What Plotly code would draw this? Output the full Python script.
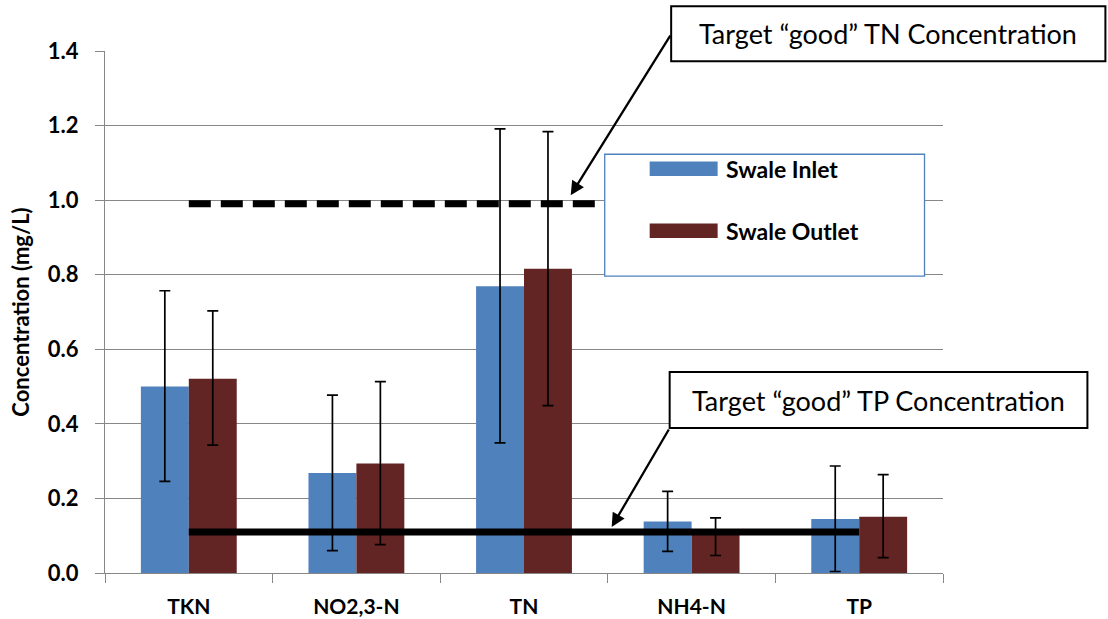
import plotly.graph_objects as go

# ---------------- data ----------------
categories = ["TKN", "NO2,3-N", "TN", "NH4-N", "TP"]
inlet_mean = [0.500, 0.268, 0.769, 0.138, 0.145]
outlet_mean = [0.521, 0.294, 0.816, 0.105, 0.151]
inlet_upper = [0.757, 0.477, 1.191, 0.219, 0.287]
inlet_lower = [0.246, 0.060, 0.349, 0.058, 0.004]
outlet_upper = [0.703, 0.513, 1.184, 0.148, 0.264]
outlet_lower = [0.343, 0.076, 0.449, 0.047, 0.041]
tn_target = 0.99
tp_target = 0.11
series_names = ["Swale Inlet", "Swale Outlet"]
y_ticks = [0.0, 0.2, 0.4, 0.6, 0.8, 1.0, 1.2, 1.4]

# ---------------- style ----------------
W, H = 1108, 619
PL, PR, PT, PB = 105, 943.5, 50.7, 573  # plot area in pixels
BLUE = "#4F81BD"
RED = "#632523"
GRID = "#878787"
FONT = "Lato"


def fx(px):
    return (px - PL) / (PR - PL)


def fy(py):
    return (PB - py) / (PB - PT)


inlet_plus = [u - m for u, m in zip(inlet_upper, inlet_mean)]
inlet_minus = [m - l for m, l in zip(inlet_mean, inlet_lower)]
outlet_plus = [u - m for u, m in zip(outlet_upper, outlet_mean)]
outlet_minus = [m - l for m, l in zip(outlet_mean, outlet_lower)]

fig = go.Figure()
fig.add_trace(go.Bar(
    x=categories, y=inlet_mean, name=series_names[0],
    marker=dict(color=BLUE, line=dict(width=0)),
    error_y=dict(type="data", symmetric=False, array=inlet_plus,
                 arrayminus=inlet_minus, color="black", thickness=1.7, width=5.5),
    showlegend=False,
))
fig.add_trace(go.Bar(
    x=categories, y=outlet_mean, name=series_names[1],
    marker=dict(color=RED, line=dict(width=0)),
    error_y=dict(type="data", symmetric=False, array=outlet_plus,
                 arrayminus=outlet_minus, color="black", thickness=1.7, width=5.5),
    showlegend=False,
))
# target lines
fig.add_trace(go.Scatter(
    x=[categories[0], categories[-1]], y=[tn_target, tn_target],
    mode="lines", line=dict(color="black", width=7, dash="22px,10px"),
    showlegend=False, hoverinfo="skip",
))
fig.add_trace(go.Scatter(
    x=[categories[0], categories[-1]], y=[tp_target, tp_target],
    mode="lines", line=dict(color="black", width=7),
    showlegend=False, hoverinfo="skip",
))

shapes = []
annotations = []

# legend box (manual)
shapes.append(dict(type="rect", xref="paper", yref="paper",
                   x0=fx(605), x1=fx(925), y0=fy(276), y1=fy(154),
                   line=dict(color=BLUE, width=1.3), fillcolor="white", layer="above"))
for i, (name, col, yc) in enumerate([(series_names[0], BLUE, 168.5), (series_names[1], RED, 230.5)]):
    shapes.append(dict(type="rect", xref="paper", yref="paper",
                       x0=fx(650), x1=fx(718), y0=fy(yc + 7.2), y1=fy(yc - 7.2),
                       line=dict(width=0), fillcolor=col, layer="above"))
    annotations.append(dict(xref="paper", yref="paper", x=fx(724), y=fy(yc),
                            xanchor="left", yanchor="middle", showarrow=False,
                            text="<b>%s</b>" % name,
                            font=dict(family=FONT, size=23, color="black")))

# callout boxes
for (x0, x1, y0, y1, txt, tip, start) in [
    (671.5, 1106, 6, 61, "Target “good” TN Concentration", (571, 195), (671.5, 34)),
    (670, 1088, 372, 428, "Target “good” TP Concentration", (612, 527), (670, 428)),
]:
    shapes.append(dict(type="rect", xref="paper", yref="paper",
                       x0=fx(x0), x1=fx(x1), y0=fy(y1), y1=fy(y0),
                       line=dict(color="black", width=2), fillcolor="white", layer="above"))
    annotations.append(dict(xref="paper", yref="paper", x=fx((x0 + x1) / 2), y=fy((y0 + y1) / 2),
                            xanchor="center", yanchor="middle", showarrow=False,
                            text=txt, font=dict(family=FONT, size=27, color="black")))
    annotations.append(dict(xref="paper", yref="paper", x=fx(tip[0]), y=fy(tip[1]),
                            ax=start[0] - tip[0], ay=start[1] - tip[1],
                            axref="pixel", ayref="pixel", text="", showarrow=True,
                            arrowhead=2, arrowsize=1.2, arrowwidth=2.3, arrowcolor="black"))

fig.update_layout(
    width=W, height=H,
    margin=dict(l=PL, r=W - PR, t=PT, b=H - PB, autoexpand=False),
    paper_bgcolor="white", plot_bgcolor="white",
    barmode="group", bargap=0.428, bargroupgap=0,
    showlegend=False,
    shapes=shapes, annotations=annotations,
    font=dict(family=FONT, color="black"),
)
fig.update_xaxes(
    type="category", tickson="boundaries", ticks="outside", ticklen=9,
    tickcolor=GRID, tickwidth=1.3, showline=True, linecolor=GRID, linewidth=1.3,
    showgrid=False, tickfont=dict(family=FONT, size=21, color="black", weight="bold"),
    ticklabelstandoff=15,
)
fig.update_yaxes(
    range=[0, 1.4], tickvals=y_ticks, ticktext=["%.1f" % v for v in y_ticks],
    ticks="outside", ticklen=9, tickcolor=GRID, tickwidth=1.3,
    showline=True, linecolor=GRID, linewidth=1.3,
    showgrid=True, gridcolor=GRID, gridwidth=1.3, zeroline=False,
    tickfont=dict(family=FONT, size=22, color="black", weight="bold"),
    ticklabelstandoff=12,
    title=dict(text="<b>Concentration (mg/L)</b>", standoff=12,
               font=dict(family=FONT, size=22, color="black")),
)

fig.write_html("out.html", config={"displayModeBar": False},
               post_script="document.body.style.margin='0';")
